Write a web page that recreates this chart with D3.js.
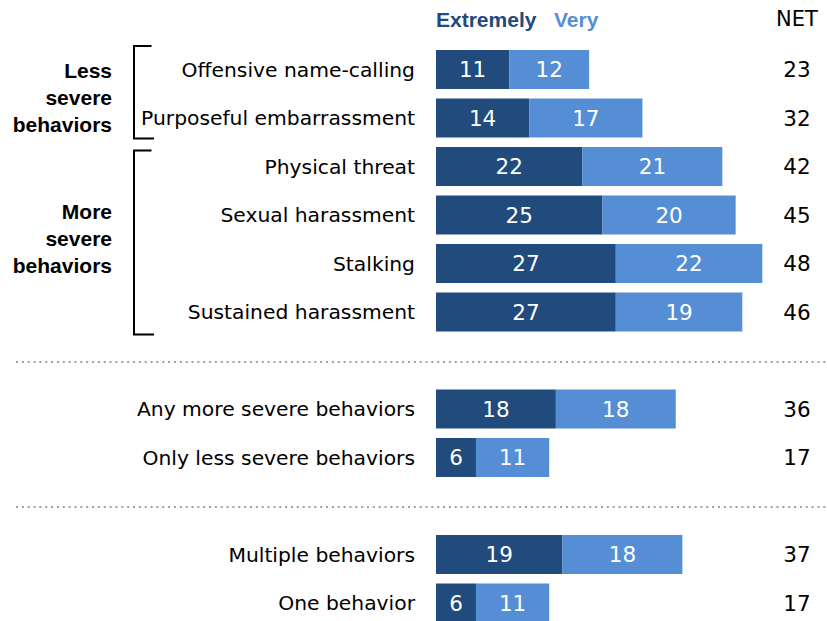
<!DOCTYPE html>
<html>
<head>
<meta charset="utf-8">
<script src="https://cdn.jsdelivr.net/npm/d3@7"></script>
<style>
  html, body { margin: 0; padding: 0; background: #fff; }
  svg text { font-family: "DejaVu Sans", sans-serif; }
  svg text.bold { font-family: "Liberation Sans", Arial, sans-serif; font-weight: bold; }
</style>
</head>
<body>
<svg id="chart" width="827" height="621"></svg>
<script>
// Behaviors and the share rating each one extremely / very upsetting
const categories = [
  "Offensive name-calling",
  "Purposeful embarrassment",
  "Physical threat",
  "Sexual harassment",
  "Stalking",
  "Sustained harassment",
  "Any more severe behaviors",
  "Only less severe behaviors",
  "Multiple behaviors",
  "One behavior"
];
const extremely = [11, 14, 22, 25, 27, 27, 18, 6, 19, 6];
const very      = [12, 17, 21, 20, 22, 19, 18, 11, 18, 11];
const net       = [23, 32, 42, 45, 48, 46, 36, 17, 37, 17];
// Row slot for each category (gaps hold the dotted separators)
const slots     = [0, 1, 2, 3, 4, 5, 7, 8, 10, 11];
const separatorSlots = [6, 9];
const seriesNames = ["Extremely", "Very"];
const groupLines = [["Less", "severe", "behaviors"], ["More", "severe", "behaviors"]];
const groupRanges = [[0, 1], [2, 5]];

// Layout
const colors = { Extremely: "#214a7d", Very: "#558ed5" };
const bracketPad = [{ top: -4, bot: 1 }, { top: 3.5, bot: 3 }];
const groupBaseline = [105, 245.5];
const labelRight = 415;
const netX = 797;

const svg = d3.select("#chart");

const x = d3.scaleLinear().domain([0, 49]).range([436, 762.3]);
const y = d3.scaleBand()
  .domain(d3.range(12))
  .range([50, 622.5])
  .paddingInner(0.196)
  .paddingOuter(0);
const bw = y.bandwidth();

const rows = categories.map((c, i) => ({
  name: c, slot: slots[i], e: extremely[i], v: very[i], net: net[i]
}));

// Legend header
svg.append("text").attr("class", "bold")
  .attr("x", x(0)).attr("y", 27)
  .attr("font-size", 21)
  .attr("fill", colors.Extremely)
  .text(seriesNames[0]);
svg.append("text").attr("class", "bold")
  .attr("x", 554).attr("y", 27)
  .attr("font-size", 21)
  .attr("fill", colors.Very)
  .text(seriesNames[1]);
svg.append("text")
  .attr("x", netX).attr("y", 26)
  .attr("text-anchor", "middle")
  .attr("font-size", 21).attr("fill", "#000")
  .text("NET");

const row = svg.append("g").selectAll("g.row").data(rows).join("g").attr("class", "row");

// Category labels
row.append("text")
  .attr("x", labelRight)
  .attr("y", d => y(d.slot) + bw / 2)
  .attr("dy", "0.36em")
  .attr("text-anchor", "end")
  .attr("font-size", 20.3)
  .attr("fill", "#000")
  .text(d => d.name);

// Extremely segment
row.append("rect")
  .attr("x", x(0))
  .attr("y", d => y(d.slot))
  .attr("width", d => x(d.e) - x(0))
  .attr("height", bw)
  .attr("fill", colors.Extremely);

// Very segment
row.append("rect")
  .attr("x", d => x(d.e))
  .attr("y", d => y(d.slot))
  .attr("width", d => x(d.e + d.v) - x(d.e))
  .attr("height", bw)
  .attr("fill", colors.Very);

// Segment value labels
row.append("text")
  .attr("x", d => (x(0) + x(d.e)) / 2)
  .attr("y", d => y(d.slot) + bw / 2)
  .attr("dy", "0.36em")
  .attr("text-anchor", "middle")
  .attr("font-size", 21.5).attr("fill", "#fff")
  .text(d => d.e);
row.append("text")
  .attr("x", d => (x(d.e) + x(d.e + d.v)) / 2)
  .attr("y", d => y(d.slot) + bw / 2)
  .attr("dy", "0.36em")
  .attr("text-anchor", "middle")
  .attr("font-size", 21.5).attr("fill", "#fff")
  .text(d => d.v);

// NET column
row.append("text")
  .attr("x", netX)
  .attr("y", d => y(d.slot) + bw / 2)
  .attr("dy", "0.36em")
  .attr("text-anchor", "middle")
  .attr("font-size", 21.5).attr("fill", "#000")
  .text(d => d.net);

// Dotted separators
separatorSlots.forEach(s => {
  const yy = Math.round(y(s) + bw / 2 + 1);
  svg.append("line")
    .attr("x1", 16).attr("x2", 827)
    .attr("y1", yy).attr("y2", yy)
    .attr("stroke", "#a0a0a0").attr("stroke-width", 2)
    .attr("stroke-dasharray", "2,3.85");
});

// Group brackets and labels
groupRanges.forEach((r, gi) => {
  const top = y(r[0]) + bracketPad[gi].top;
  const bot = y(r[1]) + bw + bracketPad[gi].bot;
  svg.append("path")
    .attr("d", `M151.5,${top} H134 V${bot} H154`)
    .attr("fill", "none").attr("stroke", "#000").attr("stroke-width", 2);
  const lh = 27;
  groupLines[gi].forEach((t, k) => {
    svg.append("text").attr("class", "bold")
      .attr("x", 112)
      .attr("y", groupBaseline[gi] + (k - 1) * lh)
      .attr("text-anchor", "end")
      .attr("font-size", 21)
      .attr("fill", "#000")
      .text(t);
  });
});
</script>
</body>
</html>
